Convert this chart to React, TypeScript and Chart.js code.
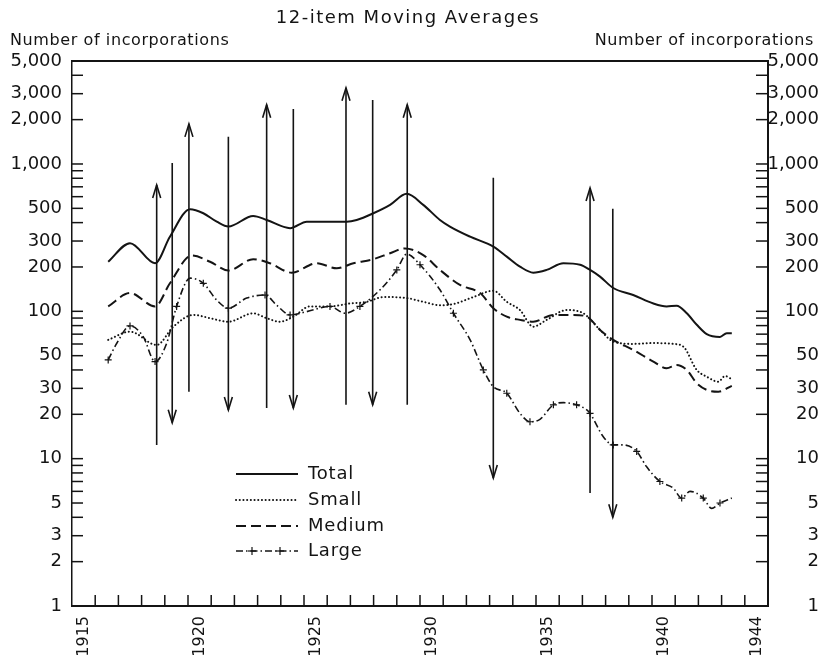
import React, { useEffect, useRef } from 'react';
import { Chart, registerables } from 'chart.js';

Chart.register(...registerables);

const INK = '#141414';
const FONT = '"DejaVu Sans", sans-serif';

// ---- Series (12-item moving averages, number of incorporations) ----
const totalYears = [1916.56, 1917.5, 1918.58, 1919.22, 1920.09, 1920.66, 1921.24, 1921.74, 1922.81, 1923.39, 1924.4, 1925.12, 1926.12, 1926.84, 1927.27, 1927.99, 1928.71, 1929.43, 1930.14, 1930.86, 1931.29, 1932.16, 1933.16, 1933.74, 1934.31, 1934.88, 1935.46, 1936.18, 1936.9, 1937.33, 1937.76, 1938.33, 1939.19, 1940.06, 1940.63, 1941.06, 1941.5, 1941.93, 1942.36, 1942.93, 1943.22, 1943.44];
const totalValues = [217, 290, 212, 321, 493, 463, 406, 376, 444, 417, 367, 406, 406, 406, 417, 463, 528, 627, 528, 417, 376, 321, 275, 235, 201, 183, 191, 212, 207, 191, 172, 144, 129, 113, 108, 109, 97, 81, 70, 67, 71, 71];

const smallYears = [1916.56, 1917.5, 1918.65, 1919.37, 1920.23, 1920.95, 1921.74, 1922.81, 1923.39, 1923.97, 1924.54, 1925.26, 1926.12, 1926.98, 1927.7, 1928.42, 1929.43, 1930.14, 1930.86, 1931.44, 1932.3, 1933.16, 1933.74, 1934.31, 1934.88, 1935.46, 1936.32, 1937.04, 1937.76, 1938.33, 1939.19, 1940.06, 1940.92, 1941.35, 1941.93, 1942.36, 1942.86, 1943.15, 1943.44];
const smallValues = [64, 72.8, 59.1, 78.7, 94.6, 89.8, 85, 97, 89.8, 85, 92, 108, 108, 113, 116, 125, 123, 116, 110, 112, 125, 138, 116, 102, 78.7, 87.5, 102, 97, 74.8, 62.3, 60.1, 60.9, 60.1, 57.6, 40, 36, 33.3, 36.4, 34.6];

const mediumYears = [1916.56, 1917.5, 1918.58, 1919.22, 1920.16, 1920.95, 1921.74, 1922.81, 1923.53, 1924.47, 1925.55, 1926.41, 1927.13, 1927.99, 1928.71, 1929.35, 1930.14, 1930.86, 1931.72, 1932.59, 1933.16, 1933.74, 1934.31, 1934.88, 1935.75, 1936.61, 1937.19, 1937.76, 1938.33, 1939.19, 1940.06, 1940.63, 1941.06, 1941.5, 1941.93, 1942.36, 1942.86, 1943.44];
const mediumValues = [108, 133, 108, 155, 239, 217, 189, 226, 212, 183, 212, 196, 212, 226, 248, 267, 241, 191, 151, 133, 105, 92, 87.5, 85, 94.6, 94.6, 92, 74.8, 64, 54.7, 45.6, 41.1, 43.3, 40, 32.5, 29.3, 28.5, 31.2];

const largeYears = [1916.56, 1916.93, 1917.5, 1918.07, 1918.58, 1919.08, 1919.51, 1920.09, 1920.66, 1921.24, 1921.74, 1922.53, 1923.32, 1923.82, 1924.4, 1925.12, 1926.12, 1926.77, 1927.41, 1928.28, 1929.0, 1929.43, 1930.0, 1930.86, 1931.44, 1932.16, 1932.73, 1933.16, 1933.74, 1934.31, 1934.74, 1935.17, 1935.75, 1936.18, 1936.75, 1937.19, 1937.33, 1937.9, 1938.33, 1938.76, 1939.34, 1939.77, 1940.34, 1940.92, 1941.28, 1941.64, 1942.21, 1942.57, 1942.93, 1943.44];
const largeValues = [46.8, 60.7, 79.6, 67.3, 45.6, 60.7, 108, 168, 155, 119, 105, 123, 129, 110, 94.6, 99.5, 108, 97, 108, 140, 191, 245, 207, 140, 97, 64, 40, 30.8, 27.8, 20.3, 17.8, 18.5, 23.2, 24, 23.2, 21.4, 20.3, 14.1, 12.4, 12.4, 11.2, 8.8, 7.0, 6.3, 5.4, 6.0, 5.4, 4.6, 5.0, 5.4];

// ---- Turning-point arrows ----
const arrowYears = [1918.65, 1919.32, 1920.04, 1921.74, 1923.39, 1924.54, 1926.81, 1927.96, 1929.45, 1933.16, 1937.33, 1938.31];
const arrowTops = [721, 1017, 1872, 1528, 2520, 2366, 3286, 2723, 2520, 805, 688, 496];
const arrowBottoms = [12.4, 17.5, 28.4, 21.4, 22.1, 22.1, 23.2, 23.2, 23.2, 7.4, 5.85, 4.0];
const arrowDirections = ['up', 'down', 'up', 'down', 'up', 'down', 'up', 'down', 'up', 'down', 'up', 'down'];

// ---- Axes ----
const yLabelValues = [1, 2, 3, 5, 10, 20, 30, 50, 100, 200, 300, 500, 1000, 2000, 3000, 5000];
const yMinorValues = [4, 6, 7, 8, 9, 40, 60, 70, 80, 90, 400, 600, 700, 800, 900, 4000];
const xLabelYears = [1915, 1920, 1925, 1930, 1935, 1940, 1944];
const xTickYears = Array.from({ length: 29 }, (_, i) => 1916 + i);

const seriesLabels = ['Total', 'Small', 'Medium', 'Large'];

const fmt = (v: number) => Number(v).toLocaleString('en-US');

function App() {
  const ref = useRef<HTMLCanvasElement>(null);

  useEffect(() => {
    const canvas = ref.current;
    if (!canvas) return;
    const pts = (xs: number[], vs: number[]) => xs.map((x, i) => ({ x, y: vs[i] }));

    const decor = {
      id: 'decor',
      afterDatasetsDraw(chart: any) {
        const { ctx, chartArea: a, scales } = chart;
        const xs = scales.x;
        const ys = scales.y;
        const seg = (x1: number, y1: number, x2: number, y2: number) => {
          ctx.beginPath();
          ctx.moveTo(x1, y1);
          ctx.lineTo(x2, y2);
          ctx.stroke();
        };
        ctx.save();
        ctx.strokeStyle = INK;
        ctx.fillStyle = INK;
        ctx.setLineDash([]);
        ctx.lineCap = 'butt';

        // top frame line
        ctx.lineWidth = 2;
        seg(a.left - 1, a.top, a.right + 1, a.top);

        // inward x ticks
        ctx.lineWidth = 1.5;
        xTickYears.forEach((yr) => {
          const px = xs.getPixelForValue(yr);
          seg(px, a.bottom, px, a.bottom - 11);
        });

        // inward y ticks (both sides)
        const marks = [...yLabelValues.filter((v) => v > 1 && v < 5000), ...yMinorValues];
        marks.forEach((v) => {
          const py = ys.getPixelForValue(v);
          seg(a.left, py, a.left + 11, py);
          seg(a.right, py, a.right - 12, py);
        });

        // arrows
        ctx.lineWidth = 1.6;
        arrowYears.forEach((yr, i) => {
          const px = xs.getPixelForValue(yr);
          const top = ys.getPixelForValue(arrowTops[i]);
          const bot = ys.getPixelForValue(arrowBottoms[i]);
          seg(px, top, px, bot);
          const up = arrowDirections[i] === 'up';
          const tip = up ? top : bot;
          const d = up ? 1 : -1;
          ctx.beginPath();
          ctx.moveTo(px - 4, tip + d * 13);
          ctx.lineTo(px, tip);
          ctx.lineTo(px + 4, tip + d * 13);
          ctx.stroke();
        });

        // titles
        ctx.textBaseline = 'middle';
        try { (ctx as any).letterSpacing = '1.5px'; } catch (e) {}
        ctx.font = `18px ${FONT}`;
        ctx.textAlign = 'center';
        ctx.fillText('12-item Moving Averages', 408, 18);
        try { (ctx as any).letterSpacing = '0.6px'; } catch (e) {}
        ctx.font = `16px ${FONT}`;
        ctx.textAlign = 'left';
        ctx.fillText('Number of incorporations', 10, 41);
        ctx.textAlign = 'right';
        ctx.fillText('Number of incorporations', 814, 41);

        // legend
        try { (ctx as any).letterSpacing = '0.8px'; } catch (e) {}
        const rows = [474, 500, 526, 551];
        chart.data.datasets.forEach((ds: any, i: number) => {
          const yy = rows[i];
          ctx.save();
          ctx.lineWidth = ds.borderWidth;
          ctx.setLineDash(ds.borderDash || []);
          ctx.lineCap = ds.borderCapStyle || 'butt';
          seg(236, yy, 298, yy);
          ctx.restore();
          if (ds.pointStyle === 'cross') {
            ctx.save();
            ctx.lineWidth = 1.2;
            [252, 280].forEach((cx) => {
              seg(cx - 4, yy, cx + 4, yy);
              seg(cx, yy - 4, cx, yy + 4);
            });
            ctx.restore();
          }
          ctx.font = `18px ${FONT}`;
          ctx.textAlign = 'left';
          ctx.fillText(ds.label, 308, yy);
        });
        ctx.restore();
      },
    };

    const yTickFont = { family: FONT, size: 18 };

    const chart = new Chart(canvas, {
      type: 'line',
      data: {
        datasets: [
          {
            label: seriesLabels[0],
            data: pts(totalYears, totalValues),
            borderColor: INK,
            borderWidth: 2,
            pointRadius: 0,
            cubicInterpolationMode: 'monotone',
            yAxisID: 'y',
          },
          {
            label: seriesLabels[1],
            data: pts(smallYears, smallValues),
            borderColor: INK,
            borderWidth: 2,
            borderDash: [0.1, 3.6],
            borderCapStyle: 'round',
            pointRadius: 0,
            cubicInterpolationMode: 'monotone',
            yAxisID: 'y',
          },
          {
            label: seriesLabels[2],
            data: pts(mediumYears, mediumValues),
            borderColor: INK,
            borderWidth: 2,
            borderDash: [10, 5],
            pointRadius: 0,
            cubicInterpolationMode: 'monotone',
            yAxisID: 'y',
          },
          {
            label: seriesLabels[3],
            data: pts(largeYears, largeValues),
            borderColor: INK,
            borderWidth: 1.6,
            borderDash: [7, 3, 1.5, 3],
            pointStyle: 'cross',
            pointRadius: (c: any) => (c.dataIndex % 2 === 0 ? 3.5 : 0),
            pointBorderWidth: 1.2,
            pointBorderColor: INK,
            pointBackgroundColor: INK,
            cubicInterpolationMode: 'monotone',
            yAxisID: 'y',
          },
        ] as any,
      },
      options: {
        animation: false,
        responsive: false,
        maintainAspectRatio: false,
        layout: { padding: { top: 61, right: 5, left: 0, bottom: 0 } },
        plugins: {
          legend: { display: false },
          tooltip: { enabled: false },
          title: { display: false },
        },
        scales: {
          x: {
            type: 'linear',
            position: 'bottom',
            min: 1915,
            max: 1945,
            grid: { display: false, drawTicks: false },
            border: { display: true, color: INK, width: 2 },
            ticks: {
              autoSkip: false,
              minRotation: 90,
              maxRotation: 90,
              padding: 10,
              color: INK,
              font: { family: FONT, size: 16 },
              callback: (v: any) => String(Math.floor(Number(v))),
            },
            afterBuildTicks: (s: any) => {
              s.ticks = xLabelYears.map((y) => ({ value: y + 0.5 }));
            },
            afterFit: (s: any) => {
              s.height = 53;
            },
          },
          y: {
            type: 'logarithmic',
            position: 'left',
            min: 1,
            max: 5000,
            grid: { display: false, drawTicks: false },
            border: { display: true, color: INK, width: 1.5 },
            ticks: {
              autoSkip: false,
              padding: 10,
              color: INK,
              font: yTickFont,
              callback: (v: any) => fmt(v),
            },
            afterBuildTicks: (s: any) => {
              s.ticks = yLabelValues.map((v) => ({ value: v }));
            },
            afterFit: (s: any) => {
              s.width = 72;
            },
          },
          y2: {
            type: 'logarithmic',
            position: 'right',
            min: 1,
            max: 5000,
            grid: { display: false, drawTicks: false },
            border: { display: true, color: INK, width: 2 },
            ticks: {
              autoSkip: false,
              padding: 8,
              crossAlign: 'far',
              color: INK,
              font: yTickFont,
              callback: (v: any) => fmt(v),
            },
            afterBuildTicks: (s: any) => {
              s.ticks = yLabelValues.map((v) => ({ value: v }));
            },
            afterFit: (s: any) => {
              s.width = 51;
            },
          },
        },
      } as any,
      plugins: [decor],
    });

    return () => chart.destroy();
  }, []);

  return (
    <div style={{ position: 'absolute', left: 0, top: 0, width: 824, height: 659, background: '#ffffff' }}>
      <canvas ref={ref} width={824} height={659} style={{ display: 'block', width: 824, height: 659 }} />
    </div>
  );
}

export default App;
